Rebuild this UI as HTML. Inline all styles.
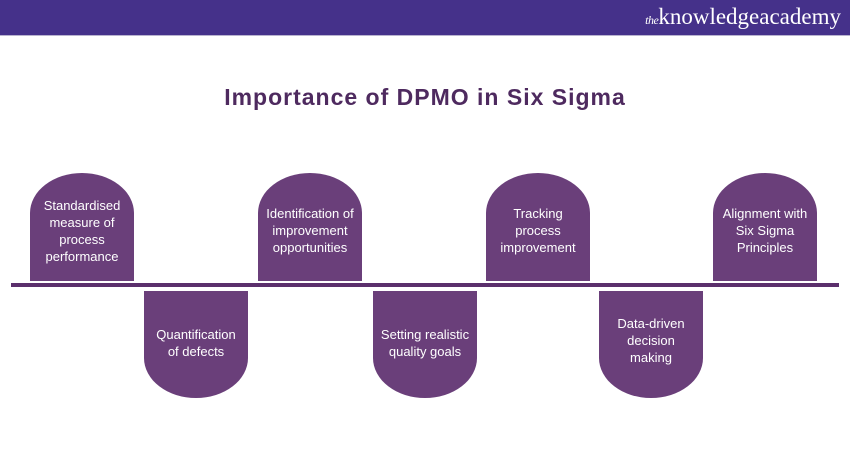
<!DOCTYPE html>
<html>
<head>
<meta charset="utf-8">
<style>
  html, body { margin:0; padding:0; }
  body { width:850px; height:450px; position:relative; overflow:hidden; background:#ffffff; font-family:"Liberation Sans", sans-serif; }
  .hdr { position:absolute; left:0; top:0; width:850px; height:35px; background:#45318a; }
  .hdr2 { position:absolute; left:0; top:35px; width:850px; height:1px; background:#b9b3cf; }
  .logo { position:absolute; right:9px; top:3px; color:#fff; font-family:"Liberation Serif", serif; font-size:23px; line-height:28px; white-space:nowrap; }
  .logo i { font-size:12px; letter-spacing:-0.5px; }
  .title { position:absolute; left:0; width:850px; top:82px; text-align:center; font-size:23px; font-weight:bold; color:#4e2a5f; letter-spacing:1px; line-height:30px; }
  .line { position:absolute; left:11px; top:283px; width:828px; height:4px; background:#5b2f6c; }
  .s { position:absolute; width:104px; background:#6a3f7a; }
  .up { top:173px; height:108px; border-radius:52px 52px 0 0 / 40px 40px 0 0; }
  .dn { top:291px; height:107px; border-radius:0 0 52px 52px / 0 0 40px 40px; }
  .t { position:absolute; width:124px; text-align:center; color:#ffffff; font-size:13px; line-height:17px; }
</style>
</head>
<body>
  <div class="hdr"></div>
  <div class="hdr2"></div>
  <div class="logo"><i>the</i>knowledgeacademy</div>
  <div class="title">Importance of DPMO in Six Sigma</div>

  <div class="s up" style="left:30px"></div>
  <div class="s dn" style="left:144px"></div>
  <div class="s up" style="left:258px"></div>
  <div class="s dn" style="left:373px"></div>
  <div class="s up" style="left:486px"></div>
  <div class="s dn" style="left:599px"></div>
  <div class="s up" style="left:713px"></div>

  <div class="line"></div>

  <div class="t" style="left:20px; top:197px">Standardised<br>measure of<br>process<br>performance</div>
  <div class="t" style="left:134px; top:326px">Quantification<br>of defects</div>
  <div class="t" style="left:248px; top:205px">Identification of<br>improvement<br>opportunities</div>
  <div class="t" style="left:363px; top:326px">Setting realistic<br>quality goals</div>
  <div class="t" style="left:476px; top:205px">Tracking<br>process<br>improvement</div>
  <div class="t" style="left:589px; top:315px">Data-driven<br>decision<br>making</div>
  <div class="t" style="left:703px; top:205px">Alignment with<br>Six Sigma<br>Principles</div>
</body>
</html>
